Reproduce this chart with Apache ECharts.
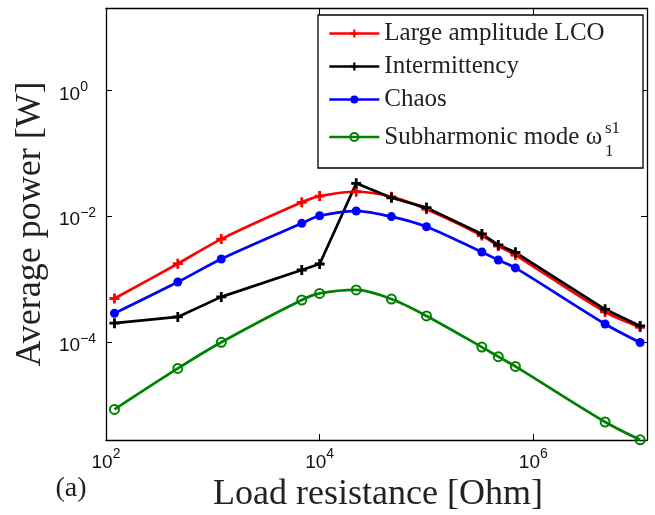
<!DOCTYPE html>
<html><head><meta charset="utf-8">
<script src="https://cdn.jsdelivr.net/npm/echarts@6/dist/echarts.min.js"></script>
<style>html,body{margin:0;padding:0;background:#fff}#c{width:655px;height:515px}</style>
</head><body><div id="c"></div>
<script>
// Load resistance values (Ohm)
const resistance = [120, 470, 1200, 6800, 10000, 22000, 47000, 100000, 330000, 470000, 680000, 4700000, 10000000];
// Average power (W)
const lcoPower = [4.9e-4, 1.75e-3, 4.3e-3, 1.65e-2, 2.07e-2, 2.43e-2, 2.02e-2, 1.28e-2, 4.9e-3, 3.34e-3, 2.4e-3, 3.0e-4, 1.71e-4];
const intermittencyPower = [1.99e-4, 2.5e-4, 5.2e-4, 1.39e-3, 1.73e-3, 3.3e-2, 1.95e-2, 1.36e-2, 5.2e-3, 3.47e-3, 2.65e-3, 3.3e-4, 1.8e-4];
const chaosPower = [2.85e-4, 8.95e-4, 2.08e-3, 7.65e-3, 1.01e-2, 1.2e-2, 9.8e-3, 6.76e-3, 2.68e-3, 2.0e-3, 1.5e-3, 1.93e-4, 9.8e-5];
const subharmonicPower = [8.5e-6, 3.8e-5, 9.9e-5, 4.64e-4, 5.9e-4, 6.7e-4, 4.8e-4, 2.59e-4, 8.3e-5, 5.85e-5, 4.1e-5, 5.37e-6, 2.8e-6];
// Tick labels
const xTickValues = [1e2, 1e4, 1e6];
const yTickValues = [1e-4, 1e-2, 1e0];
const seriesNames = ['Large amplitude LCO', 'Intermittency', 'Chaos', 'Subharmonic mode \u03c9'];

const PLUS = 'path://M3.6,0H6.4V3.6H10V6.4H6.4V10H3.6V6.4H0V3.6H3.6Z';
const SANS = 'Liberation Sans';
const SERIF = 'Liberation Serif';

function makeFormatter(ticks) {
  return function (v) {
    const lv = Math.log10(v);
    if (!ticks.some(t => Math.abs(Math.log10(t) - lv) < 1e-6)) return '';
    const e = Math.round(lv);
    return '{b|10}{s|' + (e < 0 ? '\u2212' + (-e) : e) + '}';
  };
}
function richFor(pad) {
  return {
    b: {fontSize: 19, fontFamily: SANS, color: '#111', lineHeight: 20, padding: [pad, 0, 0, 0]},
    s: {fontSize: 14, fontFamily: SANS, color: '#111', lineHeight: 15, verticalAlign: 'top'}
  };
}
const axisLine = {show: true, onZero: false, lineStyle: {color: '#000', width: 1.3}};
const axisTick = {show: true, inside: true, length: 6, lineStyle: {color: '#000', width: 1}};

const X_MIN = 100, X_MAX = 1.16e7, Y_MIN = 2.78e-6, Y_MAX = 19.7;

const chart = echarts.init(document.getElementById('c'), null, {renderer: 'canvas'});
function pairs(arr) { return resistance.map((r, i) => [r, arr[i]]); }

chart.setOption({
  animation: false,
  backgroundColor: '#fff',
  grid: {left: 106, right: 8, top: 8.5, bottom: 75},
  xAxis: [
    {type: 'log', logBase: 100, min: X_MIN, max: X_MAX, position: 'bottom',
     axisLine, axisTick, splitLine: {show: false},
     axisLabel: {margin: 7.5, formatter: makeFormatter(xTickValues), rich: richFor(11)}},
    {type: 'log', logBase: 100, min: X_MIN, max: X_MAX, position: 'top',
     axisLine, axisTick, splitLine: {show: false}, axisLabel: {show: false}}
  ],
  yAxis: [
    {type: 'log', logBase: 100, min: Y_MIN, max: Y_MAX, position: 'left',
     axisLine, axisTick, splitLine: {show: false},
     axisLabel: {margin: 47, align: 'left', formatter: makeFormatter(yTickValues), rich: richFor(8.5)}},
    {type: 'log', logBase: 100, min: Y_MIN, max: Y_MAX, position: 'right',
     axisLine, axisTick, splitLine: {show: false}, axisLabel: {show: false}}
  ],
  legend: {
    orient: 'vertical', left: 328, top: 21, z: 20,
    itemWidth: 50, itemHeight: 10, itemGap: 8, padding: 0,
    lineStyle: {width: 2.6},
    data: seriesNames,
    textStyle: {fontFamily: SERIF, fontSize: 25, color: '#222', lineHeight: 25,
      rich: {w: {fontFamily: SERIF, fontSize: 25, color: '#222', lineHeight: 34}}},
    formatter: function (name) { return name === seriesNames[3] ? '{w|' + name + '}' : name; }
  },
  graphic: [
    {type: 'rect', z: 10, shape: {x: 318, y: 15, width: 325, height: 153},
     style: {fill: '#fff', stroke: '#000', lineWidth: 1.3}},
    {type: 'text', z: 30, x: 605, y: 129, style: {text: 's1', fontFamily: SERIF, fontSize: 17, fill: '#222', align: 'left', verticalAlign: 'middle'}},
    {type: 'text', z: 30, x: 605, y: 152, style: {text: '1', fontFamily: SERIF, fontSize: 17, fill: '#222', align: 'left', verticalAlign: 'middle'}},
    {type: 'text', z: 30, x: 30.5, y: 224, rotation: Math.PI / 2,
     style: {text: 'Average power [W]', fontFamily: SERIF, fontSize: 36, fill: '#222', align: 'center', verticalAlign: 'middle'}},
    {type: 'text', z: 30, x: 378, y: 495,
     style: {text: 'Load resistance [Ohm]', fontFamily: SERIF, fontSize: 36, fill: '#222', align: 'center', verticalAlign: 'middle'}},
    {type: 'text', z: 30, x: 71, y: 489,
     style: {text: '(a)', fontFamily: SERIF, fontSize: 28, fill: '#222', align: 'center', verticalAlign: 'middle'}}
  ],
  series: [
    {name: seriesNames[0], type: 'line', data: pairs(lcoPower), smooth: 0.3, clip: false,
     symbol: PLUS, symbolSize: 10, lineStyle: {color: '#ff0000', width: 2.7}, itemStyle: {color: '#ff0000'}},
    {name: seriesNames[1], type: 'line', data: pairs(intermittencyPower), smooth: false, clip: false,
     symbol: PLUS, symbolSize: 10, lineStyle: {color: '#000000', width: 2.7}, itemStyle: {color: '#000000'}},
    {name: seriesNames[2], type: 'line', data: pairs(chaosPower), smooth: 0.3, clip: false,
     symbol: 'circle', symbolSize: 9, lineStyle: {color: '#0000ff', width: 2.7}, itemStyle: {color: '#0000ff'}},
    {name: seriesNames[3], type: 'line', data: pairs(subharmonicPower), smooth: 0.3, clip: false,
     symbol: 'circle', symbolSize: 9, lineStyle: {color: '#008000', width: 2.7},
     itemStyle: {color: 'rgba(0,0,0,0)', borderColor: '#008000', borderWidth: 2}}
  ]
});
</script></body></html>
